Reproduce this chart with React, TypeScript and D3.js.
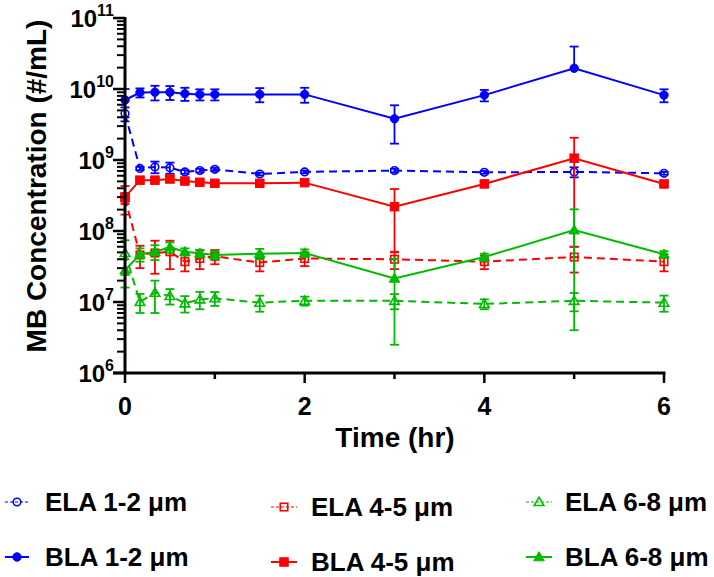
import React from "react";
import * as d3 from "d3";

const times = [0, 1 / 6, 1 / 3, 0.5, 2 / 3, 5 / 6, 1, 1.5, 2, 3, 4, 5, 6];

const elaSmall = [4.5e9, 7.6e8, 8.0e8, 7.8e8, 6.8e8, 7.1e8, 7.4e8, 6.35e8, 6.8e8, 7.1e8, 6.7e8, 6.8e8, 6.5e8];
const elaSmallSd = [1.0e9, 4e7, 1.5e8, 1.4e8, 4e7, 4e7, 4e7, 3e7, 3e7, 4e7, 3e7, 1.1e8, 3e7];
const blaSmall = [7.0e9, 8.9e9, 9.0e9, 9.0e9, 8.6e9, 8.4e9, 8.4e9, 8.4e9, 8.4e9, 3.8e9, 8.2e9, 1.96e10, 8.2e9];
const blaSmallSd = [3.0e9, 1.3e9, 2.1e9, 2.0e9, 1.8e9, 1.5e9, 1.5e9, 1.9e9, 2.0e9, 2.1e9, 1.5e9, 2.0e10, 1.7e9];
const elaMid = [2.9e8, 4.6e7, 4.9e7, 5.1e7, 3.7e7, 4.1e7, 4.4e7, 3.6e7, 4.1e7, 4.0e7, 3.7e7, 4.3e7, 3.7e7];
const elaMidSd = [5e7, 1.6e7, 2.4e7, 2.2e7, 1.0e7, 1.2e7, 1.0e7, 0.9e7, 0.9e7, 1.1e7, 0.8e7, 1.7e7, 1.0e7];
const blaMid = [3.0e8, 5.2e8, 5.2e8, 5.4e8, 5.06e8, 4.85e8, 4.7e8, 4.7e8, 4.8e8, 2.2e8, 4.6e8, 1.06e9, 4.6e8];
const blaMidSd = [1.3e8, 4e7, 4e7, 5e7, 3e7, 3e7, 3e7, 3e7, 3e7, 1.7e8, 3e7, 1.0e9, 3e7];
const elaLarge = [4.9e7, 1.0e7, 1.35e7, 1.22e7, 9.6e6, 1.09e7, 1.13e7, 9.8e6, 1.04e7, 1.04e7, 9.4e6, 1.04e7, 9.8e6];
const elaLargeSd = [2.5e7, 3e6, 6.5e6, 3e6, 2.5e6, 3e6, 2.5e6, 2.5e6, 1.5e6, 2.5e6, 1.5e6, 3e6, 2.5e6];
const blaLarge = [2.8e7, 4.7e7, 5.1e7, 5.9e7, 5.1e7, 4.85e7, 4.6e7, 4.8e7, 4.9e7, 2.15e7, 4.3e7, 1.03e8, 4.7e7];
const blaLargeSd = [1.2e7, 1.0e7, 1.2e7, 1.0e7, 6e6, 6e6, 6e6, 8e6, 6e6, 1.9e7, 5e6, 9.9e7, 5e6];

const seriesNames = ["ELA 1-2 μm", "BLA 1-2 μm", "ELA 4-5 μm", "BLA 4-5 μm", "ELA 6-8 μm", "BLA 6-8 μm"];
const seriesValues = [elaSmall, blaSmall, elaMid, blaMid, elaLarge, blaLarge];
const seriesSd = [elaSmallSd, blaSmallSd, elaMidSd, blaMidSd, elaLargeSd, blaLargeSd];
const seriesColors = ["#0000FF", "#0000FF", "#FF0000", "#FF0000", "#00BB00", "#00BB00"];
const seriesShapes = ["circle", "circle", "square", "square", "triangle", "triangle"];
const seriesOpen = [true, false, true, false, true, false];

const xTicksMajor = [0, 2, 4, 6];
const xTicksMinor = [1, 3, 5];
const yDecades = [6, 7, 8, 9, 10, 11];

const FONT = "'Liberation Sans', Arial, Helvetica, sans-serif";

function Marker({ shape, x, y, color, open }: any) {
  const fill = open ? "none" : color;
  const sw = open ? 1.6 : 1;
  if (shape === "circle") return <circle cx={x} cy={y} r={open ? 3.8 : 4.2} fill={fill} stroke={color} strokeWidth={sw} />;
  if (shape === "square") {
    const s = open ? 7.5 : 8.5;
    return <rect x={x - s / 2} y={y - s / 2} width={s} height={s} fill={fill} stroke={color} strokeWidth={sw} />;
  }
  const p = d3.symbol().type(d3.symbolTriangle).size(open ? 40 : 48)();
  return <path d={p as string} transform={`translate(${x},${y + 0.8})`} fill={fill} stroke={color} strokeWidth={sw} />;
}

export default function App() {
  const W = 714, H = 577;
  const x = d3.scaleLinear().domain([0, 6]).range([125, 664]);
  const y = d3.scaleLog().domain([1e6, 1e11]).range([373, 18]);
  const line = d3.line<number>().x((_, i) => x(times[i])).y((v) => y(v));

  const minorY: number[] = [];
  for (let e = 6; e < 11; e++) for (let m = 2; m <= 9; m++) minorY.push(m * Math.pow(10, e));

  const legendPos = [
    { mx: 17, tx: 45, y: 502, lx1: 5, lx2: 29 },
    { mx: 17, tx: 45, y: 557, lx1: 5, lx2: 29 },
    { mx: 284, tx: 311, y: 507, lx1: 271, lx2: 297 },
    { mx: 284, tx: 311, y: 562, lx1: 271, lx2: 297 },
    { mx: 539, tx: 565, y: 502, lx1: 526, lx2: 552 },
    { mx: 539, tx: 565, y: 557, lx1: 526, lx2: 552 },
  ];

  return (
    <svg width={W} height={H} style={{ position: "absolute", left: 0, top: 0, background: "#fff" }} fontFamily={FONT}>
      <rect width={W} height={H} fill="#fff" />
      {seriesValues.map((vals, si) => {
        const color = seriesColors[si];
        const open = seriesOpen[si];
        return (
          <g key={si}>
            <path d={line(vals) as string} fill="none" stroke={color} strokeWidth={2} strokeDasharray={open ? "8,5" : undefined} />
            {vals.map((v, i) => {
              const sd = seriesSd[si][i];
              const cx = x(times[i]);
              const up = y(v + sd);
              const lowV = v - sd;
              const lo = lowV > 0 ? y(lowV) : null;
              return (
                <g key={i} stroke={color} strokeWidth={1.8}>
                  <line x1={cx} x2={cx} y1={up} y2={lo === null ? y(v) : lo} />
                  <line x1={cx - 4.5} x2={cx + 4.5} y1={up} y2={up} />
                  {lo !== null && <line x1={cx - 4.5} x2={cx + 4.5} y1={lo} y2={lo} />}
                </g>
              );
            })}
            {vals.map((v, i) => (
              <Marker key={"m" + i} shape={seriesShapes[si]} x={x(times[i])} y={y(v)} color={color} open={open} />
            ))}
          </g>
        );
      })}

      <line x1={125} x2={125} y1={y(1e11) - 1} y2={y(1e6) + 1.5} stroke="#000" strokeWidth={3} />
      {minorY.map((v, i) => (
        <line key={i} x1={117} x2={125} y1={y(v)} y2={y(v)} stroke="#000" strokeWidth={2} />
      ))}
      {yDecades.map((e) => (
        <g key={e}>
          <line x1={113} x2={125} y1={y(Math.pow(10, e))} y2={y(Math.pow(10, e))} stroke="#000" strokeWidth={2.5} />
          <text x={114} y={y(Math.pow(10, e)) + 8.5} textAnchor="end" fontWeight="bold" fontSize={24} fill="#000">
            <tspan>10</tspan>
            <tspan dy={-10.5} fontSize={16}>{e}</tspan>
          </text>
        </g>
      ))}

      <line x1={113} x2={x(6) + 1.5} y1={373} y2={373} stroke="#000" strokeWidth={3} />
      {xTicksMajor.map((t) => (
        <g key={t}>
          <line x1={x(t)} x2={x(t)} y1={373} y2={383} stroke="#000" strokeWidth={2.5} />
          <text x={x(t)} y={415} textAnchor="middle" fontWeight="bold" fontSize={25} fill="#000">{t}</text>
        </g>
      ))}
      {xTicksMinor.map((t) => (
        <line key={t} x1={x(t)} x2={x(t)} y1={373} y2={379} stroke="#000" strokeWidth={2.5} />
      ))}

      <text x={395} y={447} textAnchor="middle" fontWeight="bold" fontSize={28} fill="#000">Time (hr)</text>
      <text transform="translate(46,186) rotate(-90)" textAnchor="middle" fontWeight="bold" fontSize={28} fill="#000">MB Concentration (#/mL)</text>

      {seriesNames.map((name, si) => {
        const p = legendPos[si];
        const color = seriesColors[si];
        const open = seriesOpen[si];
        return (
          <g key={name}>
            <line x1={p.lx1} x2={p.lx2} y1={p.y} y2={p.y} stroke={color} strokeWidth={open ? 1.2 : 2} strokeDasharray={open ? "3,2" : undefined} />
            <Marker shape={seriesShapes[si]} x={p.mx} y={p.y} color={color} open={open} />
            <text x={p.tx} y={p.y + 9} fontWeight="bold" fontSize={26} fill="#000">{name}</text>
          </g>
        );
      })}
    </svg>
  );
}
